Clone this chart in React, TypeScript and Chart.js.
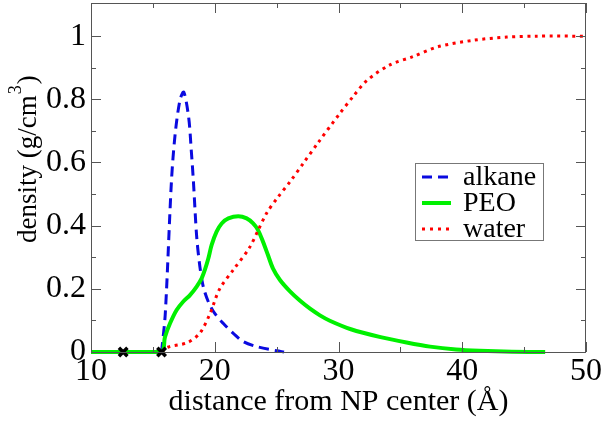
import React, { useEffect, useRef } from "react";
import { Chart, registerables } from "chart.js";

Chart.register(...registerables);

// ---- data ----
const alkaneX = [15.7, 16.0, 16.5, 16.8, 17.2, 17.5, 17.9, 18.1, 18.27, 18.54, 18.8, 19.07, 19.48, 20.0, 20.7, 21.5, 22.3, 23.4, 25.0, 25.6];
const alkaneY = [0, 0.12, 0.54, 0.69, 0.8, 0.823, 0.74, 0.64, 0.544, 0.365, 0.27, 0.207, 0.159, 0.122, 0.09, 0.059, 0.033, 0.017, 0.004, 0];

const peoX = [10, 15.66, 15.98, 16.38, 16.92, 17.46, 18.0, 18.54, 18.94, 19.2, 19.48, 19.75, 20.15, 20.56, 21.1, 21.9, 22.58, 23.1, 23.5, 23.9, 24.3, 24.7, 25.27, 26.08, 26.9, 27.7, 28.5, 29.3, 31, 33.4, 35.5, 37.4, 39.5, 41.4, 44, 46.7];
const peoY = [0, 0, 0.048, 0.09, 0.133, 0.16, 0.18, 0.207, 0.233, 0.26, 0.296, 0.339, 0.381, 0.407, 0.423, 0.43, 0.423, 0.407, 0.386, 0.349, 0.307, 0.265, 0.228, 0.192, 0.162, 0.137, 0.116, 0.099, 0.072, 0.047, 0.03, 0.017, 0.008, 0.004, 0.001, 0];

const waterX = [15.7, 16.2, 17.8, 18.8, 19.6, 20.4, 21.5, 22.8, 23.5, 24.2, 25.1, 26.1, 27.2, 28.3, 30.1, 31.2, 32.3, 34.2, 36.0, 38.0, 40.9, 43.6, 46, 50];
const waterY = [0, 0.015, 0.03, 0.06, 0.12, 0.2, 0.26, 0.33, 0.385, 0.44, 0.49, 0.54, 0.6, 0.66, 0.755, 0.81, 0.86, 0.91, 0.935, 0.966, 0.987, 0.997, 1.0, 1.0];

const markX = [12.6, 15.7];
const markY = [0, 0];

const seriesLabels = ["alkane", "PEO", "water"];

const xMajorTicks = [10, 20, 30, 40, 50];
const xMinorTicks = [15, 25, 35, 45];
const yMajorTicks = [0, 0.2, 0.4, 0.6, 0.8, 1];
const yMinorTicks = [0.1, 0.3, 0.5, 0.7, 0.9];

const xTitle = "distance from NP center (Å)";
const yTitleMain = "density (g/cm";
const yTitleSup = "3";
const yTitleEnd = ")";

const SERIF = "'Liberation Serif', 'DejaVu Serif', serif";

const toPts = (xs: number[], ys: number[]) => xs.map((x, i) => ({ x, y: ys[i] }));

const framePlugin = {
  id: "frameTicks",
  afterDraw(chart: any) {
    const { ctx, chartArea: a, scales } = chart;
    const xs = scales.x;
    const ys = scales.y;
    ctx.save();
    ctx.strokeStyle = "#555";
    ctx.lineWidth = 1;
    ctx.strokeRect(a.left + 0.5, a.top + 0.5, a.right - a.left - 1, a.bottom - a.top);
    const tick = (x1: number, y1: number, x2: number, y2: number) => {
      ctx.beginPath();
      ctx.moveTo(x1, y1);
      ctx.lineTo(x2, y2);
      ctx.stroke();
    };
    const drawX = (vals: number[], len: number) => {
      vals.forEach((v) => {
        const px = Math.round(xs.getPixelForValue(v)) + 0.5;
        tick(px, a.bottom, px, a.bottom - len);
        tick(px, a.top, px, a.top + len);
      });
    };
    const drawY = (vals: number[], len: number) => {
      vals.forEach((v) => {
        const py = Math.round(ys.getPixelForValue(v)) + 0.5;
        tick(a.left, py, a.left + len, py);
        tick(a.right, py, a.right - len, py);
      });
    };
    drawX(xMajorTicks, 10);
    drawX(xMinorTicks, 5);
    drawY(yMajorTicks, 10);
    drawY(yMinorTicks, 5);

    // y title with superscript
    ctx.fillStyle = "#000";
    ctx.translate(36, 243);
    ctx.rotate(-Math.PI / 2);
    ctx.textBaseline = "alphabetic";
    ctx.textAlign = "left";
    ctx.font = `27px ${SERIF}`;
    ctx.fillText(yTitleMain, 0, 0);
    let w = ctx.measureText(yTitleMain).width;
    ctx.font = `18px ${SERIF}`;
    ctx.fillText(yTitleSup, w + 1, -15);
    w += ctx.measureText(yTitleSup).width + 2;
    ctx.font = `27px ${SERIF}`;
    ctx.fillText(yTitleEnd, w, 0);
    ctx.restore();

    // legend
    ctx.save();
    const lx = 415.5, ly = 163.5, lw = 128, lh = 77;
    ctx.fillStyle = "#fff";
    ctx.fillRect(lx, ly, lw, lh);
    ctx.strokeStyle = "#777";
    ctx.lineWidth = 1;
    ctx.strokeRect(lx, ly, lw, lh);
    const dsets = chart.data.datasets;
    const rows = [177, 203, 229];
    const dashes = [[10, 6], [], [3, 5]];
    rows.forEach((ry, i) => {
      const ds = dsets[i];
      ctx.strokeStyle = ds.borderColor;
      ctx.lineWidth = ds.borderWidth;
      ctx.setLineDash(dashes[i]);
      ctx.beginPath();
      ctx.moveTo(422, ry);
      ctx.lineTo(451, ry);
      ctx.stroke();
      ctx.setLineDash([]);
      ctx.fillStyle = "#000";
      ctx.font = `28px ${SERIF}`;
      ctx.textBaseline = "middle";
      ctx.textAlign = "left";
      ctx.fillText(ds.label, 463, ry + 1);
    });
    ctx.restore();
  },
};

export default function App() {
  const ref = useRef<HTMLCanvasElement | null>(null);
  useEffect(() => {
    document.body.style.margin = "0";
    if (!ref.current) return;
    const chart = new Chart(ref.current, {
      type: "line",
      data: {
        datasets: [
          {
            label: seriesLabels[0],
            data: toPts(alkaneX, alkaneY),
            borderColor: "#0a0ae0",
            borderWidth: 3,
            borderDash: [10, 6],
            pointRadius: 0,
            tension: 0.3,
            fill: false,
            clip: false,
            order: 3,
          },
          {
            label: seriesLabels[1],
            data: toPts(peoX, peoY),
            borderColor: "#00f000",
            borderWidth: 4,
            pointRadius: 0,
            tension: 0.3,
            fill: false,
            clip: false,
            order: 2,
          },
          {
            label: seriesLabels[2],
            data: toPts(waterX, waterY),
            borderColor: "#ff0000",
            borderWidth: 3,
            borderDash: [3, 4.5],
            pointRadius: 0,
            tension: 0.3,
            fill: false,
            clip: false,
            order: 1,
          },
          {
            label: "marks",
            data: toPts(markX, markY),
            showLine: false,
            pointStyle: "crossRot",
            pointRadius: 6,
            pointBorderWidth: 3.5,
            borderColor: "#000",
            backgroundColor: "#000",
            clip: false,
            order: 0,
          },
        ],
      } as any,
      options: {
        responsive: false,
        animation: false,
        devicePixelRatio: 1,
        layout: { autoPadding: false, padding: { top: 3, right: 20, left: 0, bottom: 0 } },
        plugins: { legend: { display: false }, tooltip: { enabled: false } },
        scales: {
          x: {
            type: "linear",
            min: 10,
            max: 50,
            grid: { display: false, drawTicks: false },
            border: { display: false },
            afterBuildTicks: (s: any) => {
              s.ticks = xMajorTicks.map((v) => ({ value: v }));
            },
            afterFit: (s: any) => {
              s.height = 70;
              s.paddingLeft = 0;
              s.paddingRight = 0;
            },
            ticks: {
              color: "#000",
              font: { family: SERIF, size: 32 },
              padding: 0,
              maxRotation: 0,
              callback: (v: any) => String(v),
            },
            title: {
              display: true,
              text: xTitle,
              color: "#000",
              font: { family: SERIF, size: 30 },
              padding: { top: 0, bottom: 2 },
            },
          },
          y: {
            type: "linear",
            min: 0,
            max: 1.105,
            grid: { display: false, drawTicks: false },
            border: { display: false },
            afterBuildTicks: (s: any) => {
              s.ticks = yMajorTicks.map((v) => ({ value: v }));
            },
            afterFit: (s: any) => {
              s.width = 91;
              s.paddingTop = 0;
              s.paddingBottom = 0;
            },
            ticks: {
              color: "#000",
              font: { family: SERIF, size: 32 },
              padding: 5,
              callback: (v: any) => String(Math.round(v * 10) / 10),
            },
          },
        },
      } as any,
      plugins: [framePlugin],
    });
    return () => chart.destroy();
  }, []);
  return (
    <div style={{ width: 606, height: 422 }}>
      <canvas ref={ref} width={606} height={422} />
    </div>
  );
}
